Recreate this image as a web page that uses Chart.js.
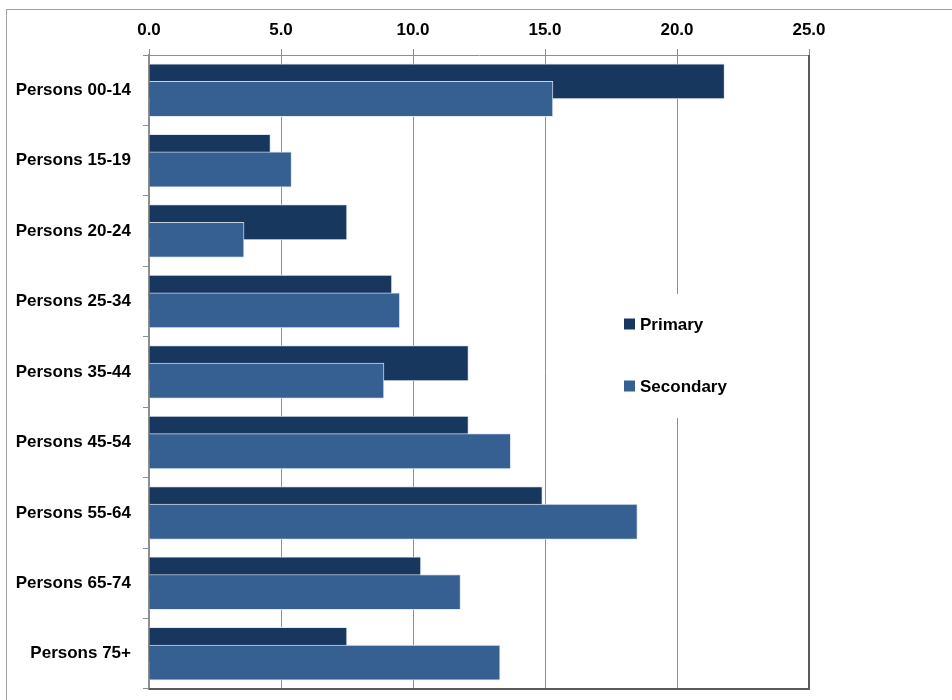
<!DOCTYPE html>
<html>
<head>
<meta charset="utf-8">
<script src="https://cdn.jsdelivr.net/npm/chart.js@4/dist/chart.umd.min.js"></script>
<style>
  html, body { margin: 0; padding: 0; background: #fff; }
  #wrap { width: 952px; height: 700px; position: relative; }
</style>
</head>
<body>
<div id="wrap"><canvas id="myChart" width="952" height="700"></canvas></div>
<script>
// Altersgruppen und Werte (Prozent)
const ageGroups = [
  "Persons 00-14", "Persons 15-19", "Persons 20-24", "Persons 25-34", "Persons 35-44",
  "Persons 45-54", "Persons 55-64", "Persons 65-74", "Persons 75+"
];
const primaryValues = [21.8, 4.6, 7.5, 9.2, 12.1, 12.1, 14.9, 10.3, 7.5];
const secondaryValues = [15.3, 5.4, 3.6, 9.5, 8.9, 13.7, 18.5, 11.8, 13.3];
const xTicks = [0, 5, 10, 15, 20, 25];

const primaryColor = "#18375e";
const secondaryColor = "#376092";
const gridColor = "#8e8e8e";
const labelFont = { family: "'Liberation Sans', Arial, sans-serif", size: 17, weight: "bold" };

// Datensätze in Reihenfolge zeichnen (Secondary liegt oben), dazu Rahmen und Legende
const overlayPlugin = {
  id: "overlay",
  beforeDatasetsDraw(chart) {
    chart.getSortedVisibleDatasetMetas().forEach(m => m.controller.draw());
    return false;
  },
  afterDraw(chart) {
    const ctx = chart.ctx;
    const a = chart.chartArea;
    ctx.save();
    // äußerer Rahmen
    ctx.strokeStyle = "#a0a0a0";
    ctx.lineWidth = 1;
    ctx.strokeRect(6.5, 9.5, 1000, 1000);
    // rechter und unterer Rand der Zeichenfläche
    ctx.strokeStyle = "#5a5a5a";
    ctx.lineWidth = 2;
    ctx.beginPath();
    ctx.moveTo(a.right, a.top);
    ctx.lineTo(a.right, a.bottom);
    ctx.lineTo(a.left, a.bottom);
    ctx.stroke();
    // Legende
    ctx.fillStyle = "#fff";
    ctx.fillRect(612, 294, 180, 124);
    const items = [
      { text: chart.data.datasets[0].label, color: primaryColor, y: 324 },
      { text: chart.data.datasets[1].label, color: secondaryColor, y: 386 }
    ];
    ctx.font = "bold 17px 'Liberation Sans', Arial, sans-serif";
    ctx.textBaseline = "middle";
    items.forEach(it => {
      ctx.fillStyle = it.color;
      ctx.fillRect(624, it.y - 5.5, 11, 11);
      ctx.fillStyle = "#000";
      ctx.fillText(it.text, 640, it.y + 1);
    });
    ctx.restore();
  }
};

const ctx = document.getElementById("myChart").getContext("2d");
new Chart(ctx, {
  type: "bar",
  data: {
    labels: ageGroups,
    datasets: [
      {
        label: "Primary",
        data: primaryValues,
        backgroundColor: primaryColor,
        borderColor: "rgba(220,230,242,0.9)",
        borderWidth: 1
      },
      {
        label: "Secondary",
        data: secondaryValues,
        backgroundColor: secondaryColor,
        borderColor: "rgba(220,230,242,0.9)",
        borderWidth: 1
      }
    ]
  },
  options: {
    indexAxis: "y",
    responsive: false,
    animation: false,
    categoryPercentage: 0.5,
    barPercentage: 2.0,
    layout: { padding: { left: 0, top: 0, right: 143, bottom: 11 } },
    plugins: {
      legend: { display: false },
      tooltip: { enabled: false }
    },
    scales: {
      x: {
        position: "top",
        min: 0,
        max: 25,
        afterFit(scale) { scale.height = 55; },
        afterBuildTicks(scale) { scale.ticks = xTicks.map(v => ({ value: v })); },
        ticks: {
          color: "#000",
          font: labelFont,
          padding: 8,
          callback: v => Number(v).toFixed(1)
        },
        grid: { color: gridColor, tickLength: 6, lineWidth: 1 },
        border: { color: gridColor, width: 1 }
      },
      y: {
        afterFit(scale) {
          scale.width = 149;
          scale.paddingTop = 0;
          scale.paddingBottom = 0;
        },
        ticks: { color: "#000", font: labelFont, padding: 12 },
        grid: { color: gridColor, drawOnChartArea: false, tickLength: 6, offset: true },
        border: { color: gridColor, width: 1.5 }
      }
    }
  },
  plugins: [overlayPlugin]
});
</script>
</body>
</html>
